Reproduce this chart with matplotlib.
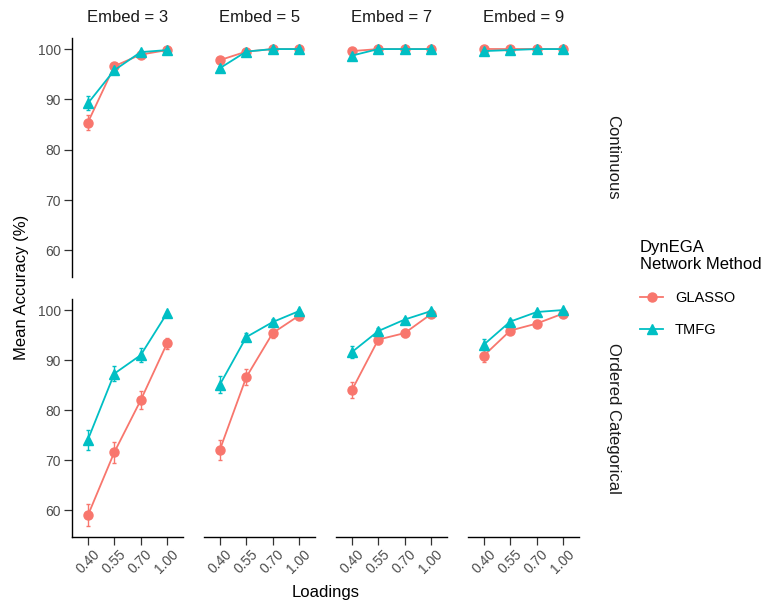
import numpy as np
import matplotlib.pyplot as plt
from matplotlib.lines import Line2D

plt.rcParams['font.family'] = ['Liberation Sans', 'DejaVu Sans']

loadings = ['0.40', '0.55', '0.70', '1.00']
embeds = [3, 5, 7, 9]
data_types = ['Continuous', 'Ordered Categorical']
methods = ['GLASSO', 'TMFG']

# mean accuracy per embed (rows) x loading (cols)
glasso_cont = [[85.4, 96.6, 98.9, 99.8],
               [97.8, 99.5, 100.0, 100.0],
               [99.6, 100.0, 100.0, 100.0],
               [100.0, 100.0, 100.0, 100.0]]
glasso_cont_err = [[1.5, 0.5, 0.3, 0.1],
                   [0.4, 0.2, 0.05, 0.0],
                   [0.2, 0.05, 0.0, 0.0],
                   [0.05, 0.0, 0.0, 0.0]]
tmfg_cont = [[89.2, 95.8, 99.4, 99.8],
             [96.2, 99.5, 100.0, 100.0],
             [98.7, 100.0, 100.0, 100.0],
             [99.6, 99.8, 100.0, 100.0]]
tmfg_cont_err = [[1.4, 0.6, 0.2, 0.1],
                 [0.5, 0.2, 0.05, 0.0],
                 [0.3, 0.05, 0.0, 0.0],
                 [0.2, 0.1, 0.0, 0.0]]

glasso_ord = [[59.0, 71.6, 82.0, 93.4],
              [72.1, 86.6, 95.4, 98.9],
              [84.0, 94.1, 95.4, 99.2],
              [90.9, 95.9, 97.3, 99.3]]
glasso_ord_err = [[2.2, 2.1, 1.75, 1.1],
                  [2.0, 1.55, 0.9, 0.4],
                  [1.65, 0.8, 0.8, 0.3],
                  [1.3, 0.6, 0.5, 0.2]]
tmfg_ord = [[74.1, 87.3, 91.0, 99.4],
            [85.1, 94.6, 97.6, 99.8],
            [91.6, 95.8, 98.1, 99.8],
            [93.1, 97.7, 99.6, 100.0]]
tmfg_ord_err = [[2.0, 1.5, 1.35, 0.3],
                [1.65, 0.8, 0.6, 0.2],
                [1.25, 0.6, 0.4, 0.1],
                [1.05, 0.5, 0.2, 0.05]]

series = {
    'Continuous': (glasso_cont, glasso_cont_err, tmfg_cont, tmfg_cont_err),
    'Ordered Categorical': (glasso_ord, glasso_ord_err, tmfg_ord, tmfg_ord_err),
}

red = '#F8766D'
teal = '#00BFC4'
W, H = 770, 608

fig = plt.figure(figsize=(W / 100, H / 100), dpi=100)

lefts = [72, 204, 336, 468]
pw = 111
rows = [(38, 277), (299, 537)]
x = np.arange(len(loadings))

for r, dtype in enumerate(data_types):
    g, ge, t, te = series[dtype]
    ytop, ybot = rows[r]
    for c, emb in enumerate(embeds):
        ax = fig.add_axes([lefts[c] / W, 1 - ybot / H, pw / W, (ybot - ytop) / H])
        ax.errorbar(x, g[c], yerr=ge[c], color=red, marker='o', ms=6.5, lw=1.3,
                    elinewidth=1.0, capsize=1.5, capthick=1.0)
        ax.errorbar(x, t[c], yerr=te[c], color=teal, marker='^', ms=7.5, lw=1.3,
                    elinewidth=1.0, capsize=1.5, capthick=1.0)
        ax.set_xlim(-0.6, 3.6)
        ax.set_ylim(54.7, 102.2)
        ax.spines['top'].set_visible(False)
        ax.spines['right'].set_visible(False)
        ax.spines['left'].set_visible(c == 0)
        ax.spines['bottom'].set_visible(r == 1)
        for s in ['left', 'bottom']:
            ax.spines[s].set_linewidth(1.0)
        ax.set_yticks([60, 70, 80, 90, 100])
        ax.set_xticks(x)
        ax.tick_params(colors='#333333', labelcolor='#4D4D4D', labelsize=10,
                       length=5.5, width=0.9)
        if c == 0:
            ax.tick_params(axis='y', left=True, labelleft=True, pad=2.5)
        else:
            ax.tick_params(axis='y', left=False, labelleft=False)
        if r == 1:
            ax.set_xticklabels(loadings, rotation=45, ha='center', va='top')
            ax.tick_params(axis='x', pad=1.5)
        else:
            ax.tick_params(axis='x', bottom=False, labelbottom=False)
        if r == 0:
            fig.text((lefts[c] + pw / 2) / W, 1 - 17 / H, f'Embed = {emb}',
                     ha='center', va='center', fontsize=12, color='#1A1A1A')
    fig.text(613 / W, 1 - (ytop + ybot) / 2 / H, dtype, rotation=270,
             ha='center', va='center', fontsize=12, color='#1A1A1A')

fig.text(22 / W, 1 - 287.5 / H, 'Mean Accuracy (%)', rotation=90,
         ha='center', va='center', fontsize=12)
fig.text(326 / W, 1 - 592 / H, 'Loadings', ha='center', va='center', fontsize=12)

handles = [Line2D([], [], color=red, marker='o', ms=6.5, lw=1.3),
           Line2D([], [], color=teal, marker='^', ms=7.5, lw=1.3)]
leg = fig.legend(handles, methods, title='DynEGA\nNetwork Method',
                 loc='upper left', bbox_to_anchor=(640 / W, 1 - 240 / H),
                 frameon=False, fontsize=10.5, title_fontsize=12,
                 handlelength=1.6, handletextpad=0.8, labelspacing=1.25,
                 borderpad=0, borderaxespad=0, alignment='left')

fig.savefig('out.png', dpi=100)
